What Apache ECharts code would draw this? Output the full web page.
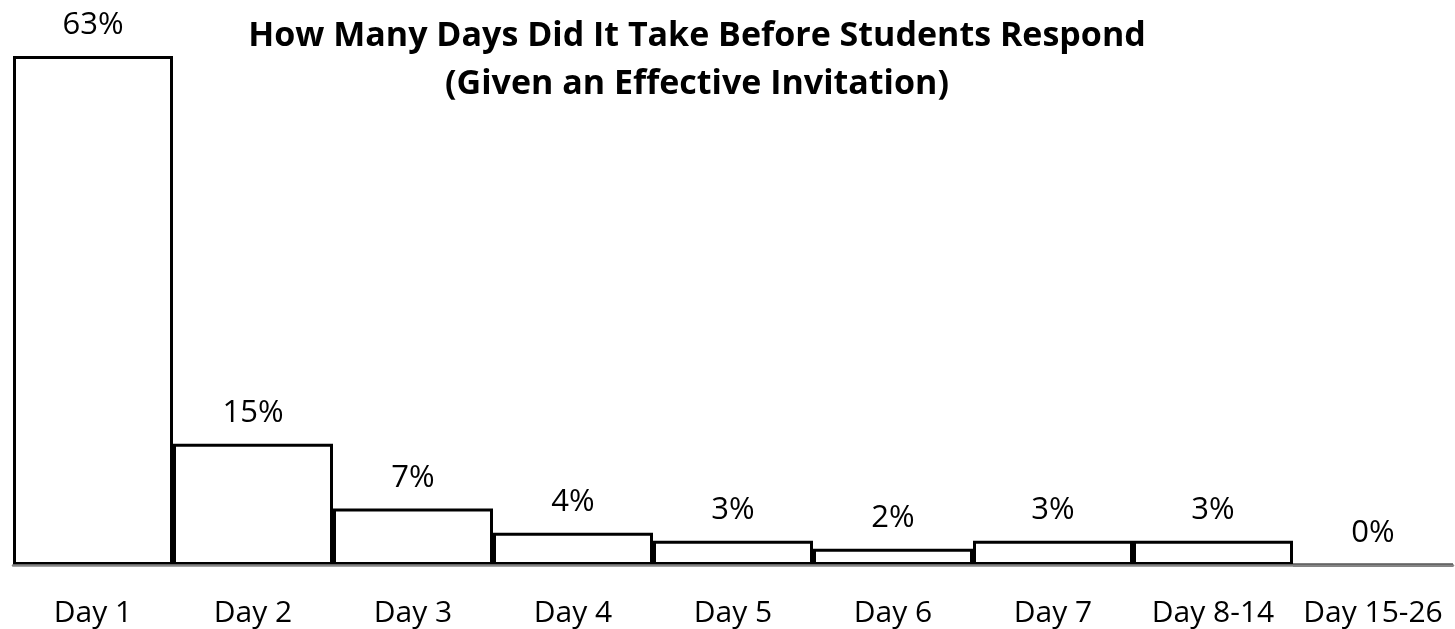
<!DOCTYPE html>
<html>
<head>
<meta charset="utf-8">
<script src="https://cdn.jsdelivr.net/npm/echarts@6/dist/echarts.min.js"></script>
<style>
html,body{margin:0;padding:0;background:#fff;}
#c{width:1455px;height:629px;}
</style>
</head>
<body>
<div id="c"></div>
<script>
const categories = ["Day 1","Day 2","Day 3","Day 4","Day 5","Day 6","Day 7","Day 8-14","Day 15-26"];
const percentValues = [63, 15, 7, 4, 3, 2, 3, 3, 0];
const titleLines = ["How Many Days Did It Take Before Students Respond", "(Given an Effective Invitation)"];

const FONT = "'Open Sans', 'Noto Sans', sans-serif";
const chart = echarts.init(document.getElementById('c'), null, {renderer: 'canvas'});
chart.setOption({
  animation: false,
  backgroundColor: '#ffffff',
  title: {
    text: titleLines.join('\n'),
    left: 692, textAlign: 'center', top: 7,
    textStyle: {fontFamily: FONT, fontWeight: 'bold', fontSize: 34, lineHeight: 48, color: '#000'}
  },
  grid: {left: 13, right: 2, top: 56, bottom: 64, containLabel: false},
  xAxis: {
    type: 'category', data: categories, z: 5,
    axisLine: {lineStyle: {color: '#868686', width: 2.5}},
    axisTick: {show: false},
    axisLabel: {fontFamily: FONT, fontSize: 30, color: '#000', margin: 33, interval: 0}
  },
  yAxis: {
    type: 'value', min: 0, max: 63,
    show: false, splitLine: {show: false}
  },
  series: [{
    type: 'bar', data: percentValues, barCategoryGap: '0%',
    itemStyle: {color: '#ffffff', borderColor: '#000', borderWidth: 3},
    label: {show: true, position: 'top', distance: 15, formatter: p => p.value + '%',
            fontFamily: FONT, fontSize: 31, color: '#000'}
  }]
});
</script>
</body>
</html>
